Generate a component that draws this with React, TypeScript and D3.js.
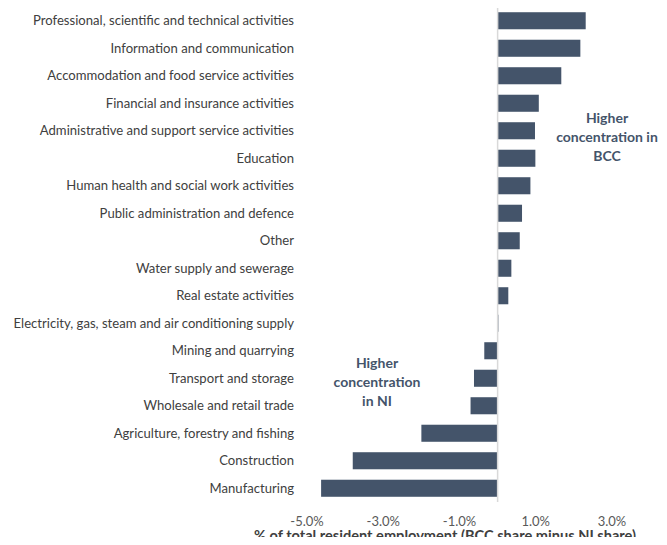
import React, { useEffect, useRef } from "react";
import * as d3 from "d3";

const categories = [
  "Professional, scientific and technical activities",
  "Information and communication",
  "Accommodation and food service activities",
  "Financial and insurance activities",
  "Administrative and support service activities",
  "Education",
  "Human health and social work activities",
  "Public administration and defence",
  "Other",
  "Water supply and sewerage",
  "Real estate activities",
  "Electricity, gas, steam and air conditioning supply",
  "Mining and quarrying",
  "Transport and storage",
  "Wholesale and retail trade",
  "Agriculture, forestry and fishing",
  "Construction",
  "Manufacturing",
];
const values = [
  2.31, 2.17, 1.67, 1.08, 0.98, 0.99, 0.86, 0.64, 0.58, 0.36, 0.28, 0.02,
  -0.35, -0.62, -0.71, -2.0, -3.8, -4.63,
];
const tickValues = [-5, -3, -1, 1, 3];
const axisTitle = "% of total resident employment (BCC share minus NI share)";
const noteBCC = ["Higher", "concentration in", "BCC"];
const noteNI = ["Higher", "concentration", "in NI"];

const W = 667;
const H = 545;

export default function App() {
  const ref = useRef<SVGSVGElement>(null);

  useEffect(() => {
    const svg = d3.select(ref.current);
    svg.selectAll("*").remove();
    const font = "Lato, 'Open Sans', sans-serif";

    const x = d3.scaleLinear().domain([-5, 3]).range([307, 612]);
    const y = d3
      .scaleBand()
      .domain(categories)
      .range([7, 502])
      .paddingInner(0.38)
      .paddingOuter(0.19);

    // bars
    svg
      .append("g")
      .selectAll("rect")
      .data(values)
      .join("rect")
      .attr("x", (d) => x(Math.min(0, d)))
      .attr("y", (d, i) => y(categories[i])!)
      .attr("width", (d) => Math.abs(x(d) - x(0)))
      .attr("height", y.bandwidth())
      .attr("fill", "#44546a");

    // zero line
    svg
      .append("line")
      .attr("x1", x(0))
      .attr("x2", x(0))
      .attr("y1", 7)
      .attr("y2", 502)
      .attr("stroke", "#d9d9d9")
      .attr("stroke-width", 1.5);

    // category labels
    svg
      .append("g")
      .selectAll("text")
      .data(categories)
      .join("text")
      .attr("x", 294)
      .attr("y", (d) => y(d)! + y.bandwidth() / 2)
      .attr("dy", "0.35em")
      .attr("text-anchor", "end")
      .attr("font-family", font)
      .attr("font-size", 13.1)
      .attr("fill", "#404040")
      .text((d) => d);

    // x tick labels
    svg
      .append("g")
      .selectAll("text")
      .data(tickValues)
      .join("text")
      .attr("x", (d) => x(d))
      .attr("y", 521)
      .attr("dy", "0.35em")
      .attr("text-anchor", "middle")
      .attr("font-family", font)
      .attr("font-size", 13)
      .attr("fill", "#595959")
      .text((d) => d.toFixed(1) + "%");

    svg
      .append("text")
      .attr("x", 445)
      .attr("y", 536)
      .attr("dy", "0.35em")
      .attr("text-anchor", "middle")
      .attr("font-family", font)
      .attr("font-size", 14.6)
      .attr("font-weight", "bold")
      .attr("fill", "#404040")
      .text(axisTitle);

    const note = (lines: string[], cx: number, y0: number) => {
      svg
        .append("g")
        .selectAll("text")
        .data(lines)
        .join("text")
        .attr("x", cx)
        .attr("y", (d, i) => y0 + i * 19)
        .attr("dy", "0.35em")
        .attr("text-anchor", "middle")
        .attr("font-family", font)
        .attr("font-size", 14)
        .attr("font-weight", "bold")
        .attr("fill", "#44546a")
        .text((d) => d);
    };
    note(noteBCC, 607, 118);
    note(noteNI, 377, 363);
  }, []);

  return (
    <div style={{ margin: -8 }}>
      <svg ref={ref} width={W} height={H} style={{ display: "block" }}></svg>
    </div>
  );
}
